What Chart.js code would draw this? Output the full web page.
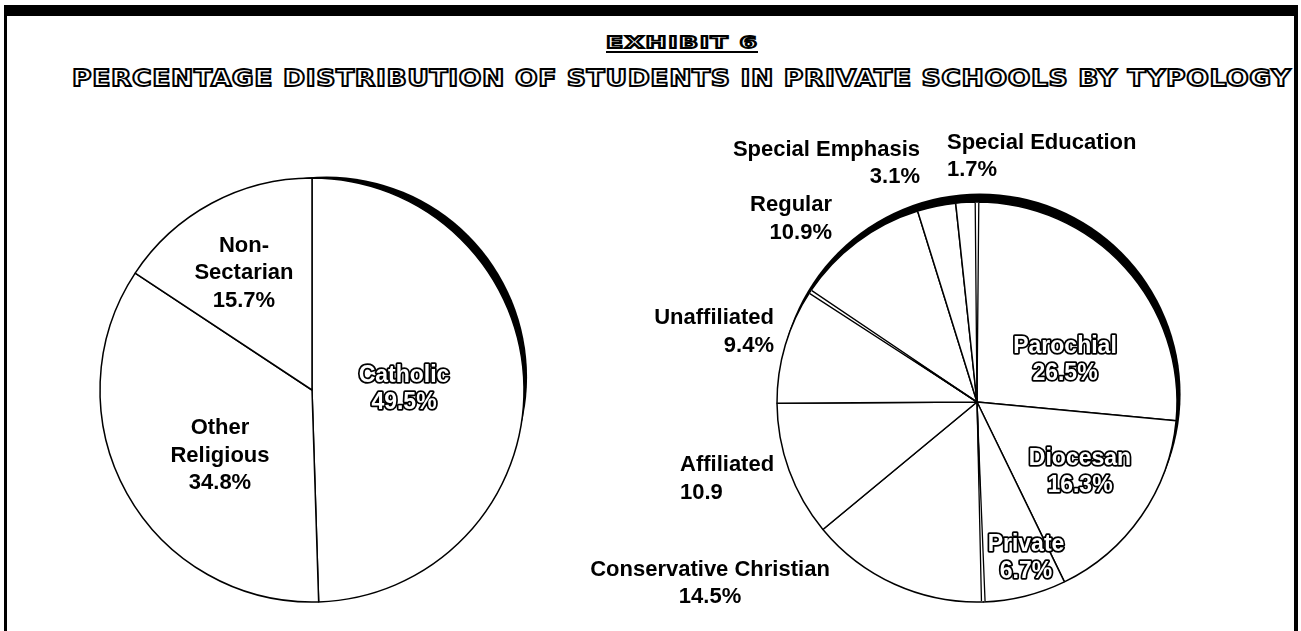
<!DOCTYPE html>
<html>
<head>
<meta charset="utf-8">
<script src="https://cdn.jsdelivr.net/npm/chart.js@4.4.0/dist/chart.umd.min.js"></script>
<style>
    html, body { margin: 0; padding: 0; background: #fff; }
    body { width: 1301px; height: 631px; position: relative; overflow: hidden; }
    #frame {
        position: absolute; left: 4px; top: 5px; width: 1294px; height: 700px;
        box-sizing: border-box;
        border-top: 11px solid #000; border-left: 3px solid #000; border-right: 4px solid #000;
    }
    .ttl {
        position: absolute; white-space: nowrap; line-height: 1;
        font-family: "DejaVu Sans", sans-serif; font-weight: bold;
        color: #fff; -webkit-text-stroke: 1.8px #000;
        transform-origin: left top;
    }
    #t1 { font-size: 16px; letter-spacing: 1px; padding-bottom: 0; border-bottom: 2px solid #000; }
    #t2 { font-size: 23px; letter-spacing: 0.5px; }
    canvas { position: absolute; left: 0; top: 0; }
</style>
</head>
<body>
<div id="frame"></div>
<div class="ttl" id="t1">EXHIBIT 6</div>
<div class="ttl" id="t2">PERCENTAGE DISTRIBUTION OF STUDENTS IN PRIVATE SCHOOLS BY TYPOLOGY</div>
<canvas id="leftPie" width="1301" height="631"></canvas>
<canvas id="rightPie" width="1301" height="631"></canvas>
<script>
// --- data ---
const leftLabels = ['Catholic', ['Other', 'Religious'], ['Non-', 'Sectarian']];
const leftValues = [49.5, 34.8, 15.7];

const rightLabels = ['Parochial', 'Diocesan', 'Private', 'Conservative Christian', 'Affiliated',
    'Unaffiliated', 'Regular', 'Special Emphasis', 'Special Education'];
const rightValues = [26.5, 16.3, 6.7, 14.5, 10.9, 9.4, 10.9, 3.1, 1.7];
const rightGroups = [0, 0, 0, 1, 1, 1, 2, 2, 2];   // index into leftLabels
const rightSuffix = ['%', '%', '%', '%', '', '%', '%', '%', '%'];

// --- label placement: [dx, dy] of text block anchor in pie radii, align, outlined? ---
const leftLabelPos = [
    [0.434, -0.005, 'center', true],
    [-0.434, 0.311, 'center', false],
    [-0.321, -0.552, 'center', false]
];
const rightLabelPos = [
    [0.44, -0.21, 'center', true],
    [0.515, 0.35, 'center', true],
    [0.245, 0.78, 'center', true],
    [-1.335, 0.9075, 'center', false],
    [-1.485, 0.385, 'left', false],
    [-1.015, -0.35, 'right', false],
    [-0.725, -0.915, 'right', false],
    [-0.285, -1.1925, 'right', false],
    [-0.15, -1.2275, 'left', false]
];

const BORDER = 1.5;
const LABEL_FONT = 'bold 22px "Liberation Sans", Arial, sans-serif';
const INNER_FONT = 'bold 23px "Liberation Sans", Arial, sans-serif';
const LINE_H = 27.5;

// titles: stretch to the width used in the exhibit
function fitTitle(id, left, top, width) {
    const el = document.getElementById(id);
    el.style.left = left + 'px';
    el.style.top = top + 'px';
    el.style.transform = 'scaleX(' + (width / el.offsetWidth) + ')';
}
fitTitle('t1', 606, 35, 152);
fitTitle('t2', 72, 67, 1219);

// padding that puts a pie of radius r centred on (cx, cy)
function padFor(cx, cy, r) {
    const h = r + BORDER / 2;
    return { left: cx - h, right: 1301 - cx - h, top: cy - h, bottom: 631 - cy - h };
}

// black crescent on the upper right of each pie (a shifted disc behind it)
const shadowPlugin = {
    id: 'pieShadow',
    beforeDatasetsDraw(chart, args, opts) {
        const arc = chart.getDatasetMeta(0).data[0];
        const ctx = chart.ctx;
        ctx.save();
        ctx.fillStyle = '#000';
        ctx.beginPath();
        ctx.arc(arc.x + opts.dx, arc.y + opts.dy, arc.outerRadius + opts.dr, 0, Math.PI * 2);
        ctx.fill();
        ctx.restore();
    }
};

// double line where one main type ends and the next starts
const groupGapPlugin = {
    id: 'groupGap',
    afterDatasetsDraw(chart, args, opts) {
        if (!opts.groups) return;
        const arcs = chart.getDatasetMeta(0).data;
        const ctx = chart.ctx;
        const n = arcs.length;
        ctx.save();
        arcs.forEach((arc, i) => {
            if (opts.groups[i] === opts.groups[(i - 1 + n) % n]) return;
            const a = arc.startAngle;
            const r = arc.outerRadius;
            const d = 1.8 / r;
            const cx = arc.x, cy = arc.y;
            const p = (ang, rr) => [cx + Math.cos(ang) * rr, cy + Math.sin(ang) * rr];
            const [x1, y1] = p(a - d, r - 0.8);
            const [x2, y2] = p(a + d, r - 0.8);
            ctx.fillStyle = '#fff';
            ctx.beginPath();
            ctx.moveTo(cx, cy); ctx.lineTo(x1, y1); ctx.lineTo(x2, y2); ctx.closePath();
            ctx.fill();
            ctx.strokeStyle = '#000';
            ctx.lineWidth = 1.3;
            ctx.beginPath();
            ctx.moveTo(cx, cy); ctx.lineTo(x1, y1);
            ctx.moveTo(cx, cy); ctx.lineTo(x2, y2);
            ctx.stroke();
        });
        ctx.restore();
    }
};

// category + percentage text
const labelPlugin = {
    id: 'pieLabels',
    afterDatasetsDraw(chart, args, opts) {
        const arc0 = chart.getDatasetMeta(0).data[0];
        const cx = arc0.x, cy = arc0.y, r = arc0.outerRadius;
        const ctx = chart.ctx;
        const labels = chart.data.labels;
        const values = chart.data.datasets[0].data;
        ctx.save();
        ctx.textBaseline = 'middle';
        ctx.lineJoin = 'round';
        labels.forEach((lab, i) => {
            const [dx, dy, align, outlined] = opts.pos[i];
            const lines = [].concat(lab);
            lines.push(values[i].toFixed(1) + (opts.suffix ? opts.suffix[i] : '%'));
            const x = cx + dx * r;
            let y = cy + dy * r - (lines.length - 1) * LINE_H / 2;
            ctx.textAlign = align;
            ctx.font = outlined ? INNER_FONT : LABEL_FONT;
            lines.forEach(t => {
                if (outlined) {
                    ctx.strokeStyle = '#000';
                    ctx.lineWidth = 3.5;
                    ctx.strokeText(t, x, y);
                    ctx.fillStyle = '#fff';
                } else {
                    ctx.fillStyle = '#000';
                }
                ctx.fillText(t, x, y);
                y += LINE_H;
            });
        });
        ctx.restore();
    }
};

function makePie(canvasId, labels, values, pad, shadow, labelOpts, groups) {
    return new Chart(document.getElementById(canvasId), {
        type: 'pie',
        data: {
            labels: labels,
            datasets: [{
                data: values,
                backgroundColor: '#fff',
                borderColor: '#000',
                borderWidth: BORDER
            }]
        },
        options: {
            responsive: false,
            animation: false,
            devicePixelRatio: 1,
            layout: { padding: pad },
            plugins: {
                legend: { display: false },
                tooltip: { enabled: false },
                pieShadow: shadow,
                pieLabels: labelOpts,
                groupGap: { groups: groups }
            }
        },
        plugins: [shadowPlugin, groupGapPlugin, labelPlugin]
    });
}

makePie('leftPie', leftLabels, leftValues, padFor(312, 390, 212),
    { dx: 14.7, dy: -13, dr: -11.6 }, { pos: leftLabelPos }, null);
makePie('rightPie', rightLabels, rightValues, padFor(977, 402, 200),
    { dx: 2.9, dy: -7.8, dr: 0.7 }, { pos: rightLabelPos, suffix: rightSuffix }, rightGroups);
</script>
</body>
</html>
